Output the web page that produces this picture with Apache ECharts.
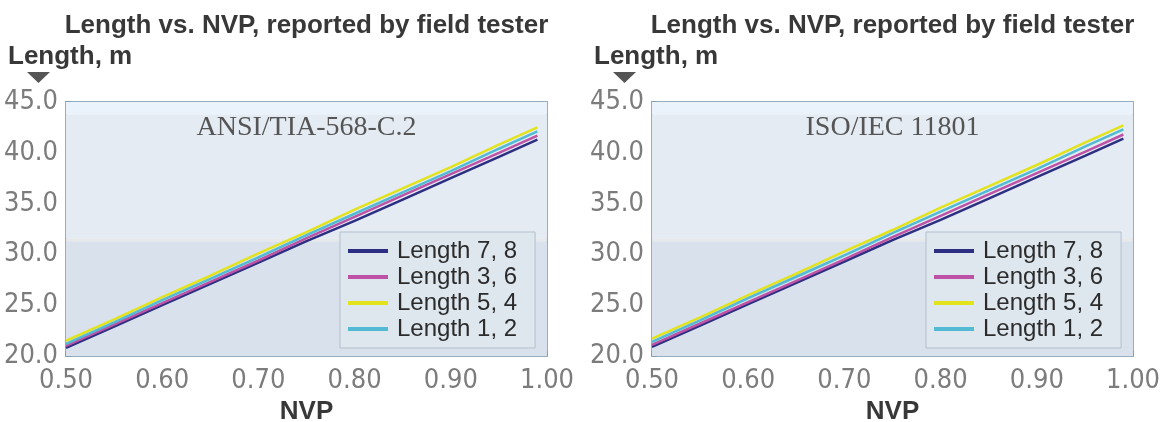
<!DOCTYPE html>
<html>
<head>
<meta charset="utf-8">
<title>Length vs. NVP</title>
<script src="https://cdn.jsdelivr.net/npm/echarts@6/dist/echarts.min.js"></script>
<style>
    html, body { margin: 0; padding: 0; background: #fff; }
    #main { width: 1160px; height: 422px; }
</style>
</head>
<body>
<div id="main"></div>
<script>
// NVP 取样点
var nvp = [0.50, 0.55, 0.60, 0.65, 0.70, 0.75, 0.80, 0.85, 0.90, 0.95, 0.99];

// ANSI/TIA-568-C.2
var ansiLen78 = [20.8, 22.9, 25.0, 27.1, 29.2, 31.3, 33.3, 35.4, 37.5, 39.6, 41.3];
var ansiLen36 = [21.0, 23.1, 25.2, 27.3, 29.4, 31.6, 33.7, 35.8, 37.9, 40.0, 41.7];
var ansiLen54 = [21.5, 23.6, 25.8, 27.9, 30.1, 32.2, 34.4, 36.5, 38.6, 40.8, 42.5];
var ansiLen12 = [21.2, 23.3, 25.5, 27.6, 29.7, 31.9, 34.0, 36.1, 38.2, 40.4, 42.1];

// ISO/IEC 11801
var isoLen78 = [20.9, 23.0, 25.1, 27.2, 29.3, 31.4, 33.4, 35.5, 37.6, 39.7, 41.4];
var isoLen36 = [21.1, 23.2, 25.3, 27.4, 29.5, 31.7, 33.8, 35.9, 38.0, 40.1, 41.8];
var isoLen54 = [21.7, 23.8, 26.0, 28.1, 30.3, 32.4, 34.6, 36.7, 38.8, 41.0, 42.7];
var isoLen12 = [21.4, 23.5, 25.7, 27.8, 29.9, 32.1, 34.2, 36.3, 38.4, 40.6, 42.3];

var seriesNames = ["Length 7, 8", "Length 3, 6", "Length 5, 4", "Length 1, 2"];
var seriesColors = ["#2c2f82", "#bd52a6", "#e2e31c", "#52bbd3"];

// 背景色带 (m)
var bandEdges = [20, 31.3, 31.6, 43.8, 45];
var bandColors = ["#d9e2ec", "#e6e8ea", "#e4ebf3", "#eaf3fb"];

var chartTitles = ["ANSI/TIA-568-C.2", "ISO/IEC 11801"];
var panels = [
    { left: 66, data: [ansiLen78, ansiLen36, ansiLen54, ansiLen12] },
    { left: 652, data: [isoLen78, isoLen36, isoLen54, isoLen12] }
];

(function() {
    'use strict';

    var plotW = 481, plotH = 254, plotTop = 102;
    var boldFont = "'Liberation Sans', Arial, sans-serif";
    var narrowFont = "'Liberation Sans Narrow', 'DejaVu Sans Condensed', sans-serif";
    var axisColor = "#98adbf";

    function pairs(ys) {
        return nvp.map(function(x, i) { return [x, ys[i]]; });
    }

    var option = {
        animation: false,
        backgroundColor: "#ffffff",
        title: [],
        legend: [],
        grid: [],
        xAxis: [],
        yAxis: [],
        series: [],
        graphic: []
    };

    panels.forEach(function(p, k) {
        var cx = p.left + plotW / 2;

        option.title.push({
            text: "Length vs. NVP, reported by field tester",
            left: cx, top: 13, textAlign: "center", padding: 0,
            textStyle: { fontFamily: boldFont, fontWeight: "bold", fontSize: 26, color: "#383838" }
        });
        option.title.push({
            text: "Length, m",
            left: p.left - 58, top: 44, padding: 0,
            textStyle: { fontFamily: boldFont, fontWeight: "bold", fontSize: 26, color: "#383838" }
        });
        option.title.push({
            text: chartTitles[k],
            left: cx, top: 114, textAlign: "center", padding: 0,
            textStyle: { fontFamily: "'Liberation Serif', 'DejaVu Serif', serif", fontWeight: "normal", fontSize: 28, color: "#555555" }
        });

        option.graphic.push({
            type: "polygon",
            shape: { points: [[p.left - 39, 72], [p.left - 16, 72], [p.left - 27.5, 83]] },
            style: { fill: "#555555" }
        });

        option.grid.push({
            left: p.left, top: plotTop, width: plotW, height: plotH,
            outerBoundsMode: "none",
            show: true, borderColor: axisColor, borderWidth: 2, backgroundColor: "transparent"
        });

        option.xAxis.push({
            type: "value", gridIndex: k,
            min: 0.5, max: 1.0, interval: 0.1,
            name: "NVP", nameLocation: "middle", nameGap: 39,
            nameTextStyle: { fontFamily: boldFont, fontWeight: "bold", fontSize: 26, color: "#383838" },
            axisLine: { show: true, lineStyle: { color: axisColor, width: 2 } },
            axisTick: { show: true, inside: true, length: 5, lineStyle: { color: "#7f99b0", width: 1.5 } },
            axisLabel: {
                margin: 11, fontFamily: narrowFont, fontSize: 27, color: "#7c7c7c",
                formatter: function(v) { return v.toFixed(2); }
            },
            splitLine: { show: false }
        });

        option.yAxis.push({
            type: "value", gridIndex: k,
            min: 20, max: 45, interval: 5,
            axisLine: { show: true, lineStyle: { color: axisColor, width: 2 } },
            axisTick: { show: true, inside: true, length: 5, lineStyle: { color: "#7f99b0", width: 1.5 } },
            axisLabel: {
                margin: 8, fontFamily: narrowFont, fontSize: 27, color: "#7c7c7c",
                formatter: function(v) { return v.toFixed(1); }
            },
            splitLine: { show: false }
        });

        // 背景色带
        var bands = [];
        for (var b = 0; b < bandColors.length; b++) {
            bands.push([
                { yAxis: bandEdges[b], itemStyle: { color: bandColors[b] } },
                { yAxis: bandEdges[b + 1] }
            ]);
        }

        seriesNames.forEach(function(name, i) {
            var s = {
                type: "line", name: name,
                xAxisIndex: k, yAxisIndex: k,
                data: pairs(p.data[i]),
                showSymbol: false, symbol: "none",
                lineStyle: { color: seriesColors[i], width: 2.5 },
                itemStyle: { color: seriesColors[i] },
                z: 3 + i
            };
            if (i === 0) {
                s.markArea = { silent: true, data: bands };
            }
            option.series.push(s);
        });

        option.legend.push({
            orient: "vertical",
            left: p.left + 274, top: 232,
            padding: [6, 18, 6, 8],
            itemGap: 0,
            itemWidth: 40, itemHeight: 4,
            icon: "rect",
            backgroundColor: "#dee6ee",
            borderColor: "#b3bfcb", borderWidth: 1,
            selectedMode: false,
            data: seriesNames,
            textStyle: { fontFamily: boldFont, fontSize: 24, color: "#2b2b2b", lineHeight: 26, padding: [0, 0, 0, 4] }
        });
    });

    var myChart = echarts.init(document.getElementById("main"), null, { renderer: "canvas" });
    myChart.setOption(option);
})();
</script>
</body>
</html>
